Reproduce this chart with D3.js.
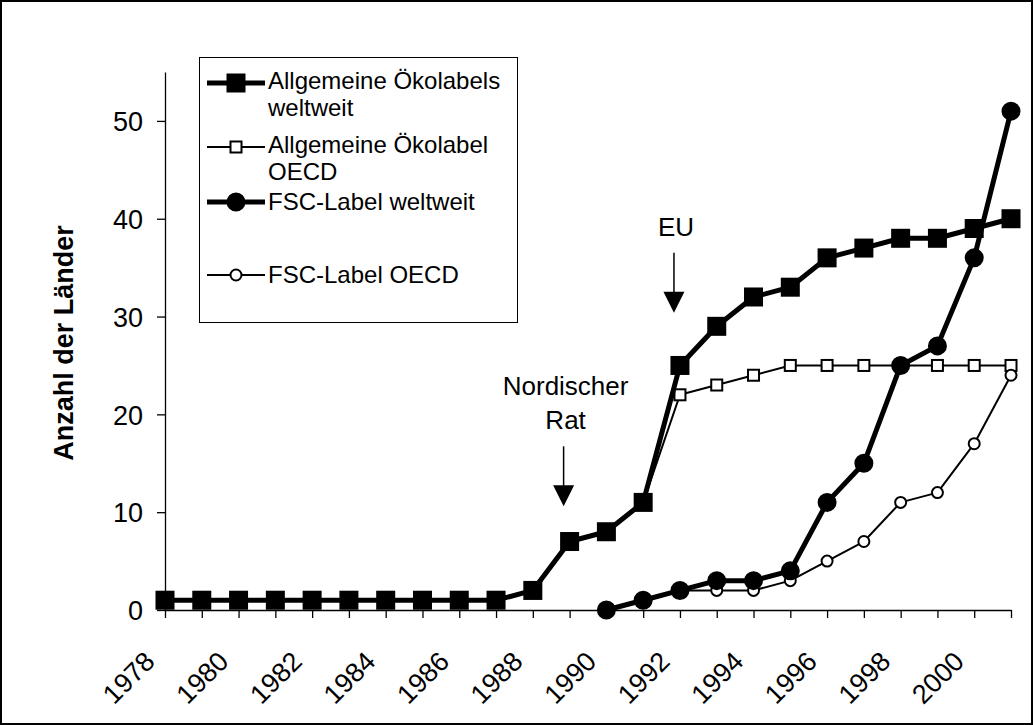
<!DOCTYPE html>
<html>
<head>
<meta charset="utf-8">
<script src="https://cdn.jsdelivr.net/npm/d3@7"></script>
<style>
  body { margin: 0; background: #fff; }
  text { font-family: 'Liberation Sans', Arial, sans-serif; fill: #000; }
</style>
</head>
<body>
<div id="chart"></div>
<script>
const years = [1978, 1979, 1980, 1981, 1982, 1983, 1984, 1985, 1986, 1987, 1988, 1989,
  1990, 1991, 1992, 1993, 1994, 1995, 1996, 1997, 1998, 1999, 2000, 2001];

const allgWelt = [1, 1, 1, 1, 1, 1, 1, 1, 1, 1, 2, 7, 8, 11, 25, 29, 32, 33, 36, 37, 38, 38, 39, 40];
const allgOECD = [1, 1, 1, 1, 1, 1, 1, 1, 1, 1, 2, 7, 8, 11, 22, 23, 24, 25, 25, 25, 25, 25, 25, 25];
const fscWelt = [null, null, null, null, null, null, null, null, null, null, null, null,
  0, 1, 2, 3, 3, 4, 11, 15, 25, 27, 36, 51];
const fscOECD = [null, null, null, null, null, null, null, null, null, null, null, null,
  0, 1, 2, 2, 2, 3, 5, 7, 11, 12, 17, 24];

const yTicks = [0, 10, 20, 30, 40, 50];

const annotLabels = [['Nordischer', 'Rat'], ['EU']];
const annotYears = [1989, 1992];
const annotTips = [10.6, 30.4];

const app = () => {
  const svgWidth = 1033;
  const svgHeight = 725;

  const svg = d3.select('#chart').append('svg')
    .attr('width', svgWidth)
    .attr('height', svgHeight);

  // outer frame
  svg.append('rect')
    .attr('x', 1).attr('y', 1)
    .attr('width', svgWidth - 2).attr('height', svgHeight - 2)
    .attr('fill', 'none').attr('stroke', '#000').attr('stroke-width', 2);

  const x = d3.scalePoint().domain(years).range([165, 1011]);
  const y = d3.scaleLinear().domain([0, 55]).range([610, 72]);

  // y axis
  const yAxis = svg.append('g')
    .attr('transform', 'translate(165,0)')
    .call(d3.axisLeft(y).tickValues(yTicks).tickSize(8).tickSizeOuter(0).tickPadding(14));
  yAxis.selectAll('text').style('font-size', '27px').attr('dy', '0.36em');

  // x axis
  const xAxis = svg.append('g')
    .attr('transform', 'translate(0,610)')
    .call(d3.axisBottom(x).tickSize(8).tickSizeOuter(0)
      .tickFormat((d) => (d % 2 === 0 && d <= 2000 ? d : '')));
  xAxis.selectAll('text')
    .style('font-size', '27px')
    .attr('text-anchor', 'end')
    .attr('x', 0).attr('y', 0).attr('dy', 0)
    .attr('transform', 'translate(-9,53) rotate(-45)');

  svg.selectAll('.domain, .tick line').attr('stroke', '#000').attr('stroke-width', 1.3);

  svg.append('text')
    .attr('transform', `translate(73,${(72 + 610) / 2 + 2}) rotate(-90)`)
    .attr('text-anchor', 'middle')
    .style('font-size', '27px')
    .style('font-weight', 'bold')
    .text('Anzahl der Länder');

  const series = [
    { name: 'allgOECD', values: allgOECD, width: 2, marker: 'square', size: 11, fill: '#fff' },
    { name: 'fscOECD', values: fscOECD, width: 2, marker: 'circle', size: 11, fill: '#fff' },
    { name: 'allgWelt', values: allgWelt, width: 5, marker: 'square', size: 17, fill: '#000' },
    { name: 'fscWelt', values: fscWelt, width: 5, marker: 'circle', size: 17, fill: '#000' },
  ];

  const line = d3.line()
    .defined((d) => d.v != null)
    .x((d) => x(d.year))
    .y((d) => y(d.v));

  function drawMarker(g, s, cx, cy) {
    if (s.marker === 'square') {
      g.append('rect')
        .attr('x', cx - s.size / 2).attr('y', cy - s.size / 2)
        .attr('width', s.size).attr('height', s.size)
        .attr('fill', s.fill).attr('stroke', '#000').attr('stroke-width', 2);
    } else {
      g.append('circle')
        .attr('cx', cx).attr('cy', cy).attr('r', s.size / 2)
        .attr('fill', s.fill).attr('stroke', '#000').attr('stroke-width', 2);
    }
  }

  series.forEach((s) => {
    const pts = years.map((yr, i) => ({ year: yr, v: s.values[i] }));
    const g = svg.append('g');
    g.append('path')
      .datum(pts)
      .attr('d', line)
      .attr('fill', 'none')
      .attr('stroke', '#000')
      .attr('stroke-width', s.width)
      .attr('stroke-linejoin', 'round');
    pts.filter((p) => p.v != null).forEach((p) => drawMarker(g, s, x(p.year), y(p.v)));
  });

  // annotations with arrows
  annotLabels.forEach((lines, i) => {
    const ax = x(annotYears[i]) - 6;
    const tip = y(annotTips[i]);
    const g = svg.append('g');
    g.append('line')
      .attr('x1', ax).attr('x2', ax)
      .attr('y1', tip - 60).attr('y2', tip - 18)
      .attr('stroke', '#000').attr('stroke-width', 1.5);
    g.append('path')
      .attr('d', `M${ax - 10.5},${tip - 21} L${ax + 10.5},${tip - 21} L${ax},${tip} Z`)
      .attr('fill', '#000');
    lines.forEach((t, j) => {
      g.append('text')
        .attr('x', ax + 2)
        .attr('y', tip - 77 - (lines.length - 1 - j) * 34)
        .attr('text-anchor', 'middle')
        .style('font-size', '26px')
        .text(t);
    });
  });

  // legend
  const legend = svg.append('g');
  legend.append('rect')
    .attr('x', 199.5).attr('y', 57.5)
    .attr('width', 318).attr('height', 265)
    .attr('fill', '#fff').attr('stroke', '#000').attr('stroke-width', 1);

  const legendItems = [
    { s: series[2], cy: 83, lines: ['Allgemeine Ökolabels', 'weltweit'] },
    { s: series[0], cy: 147, lines: ['Allgemeine Ökolabel', 'OECD'] },
    { s: series[3], cy: 202, lines: ['FSC-Label weltweit'] },
    { s: series[1], cy: 275, lines: ['FSC-Label OECD'] },
  ];

  legendItems.forEach((it) => {
    legend.append('line')
      .attr('x1', 207).attr('x2', 265)
      .attr('y1', it.cy).attr('y2', it.cy)
      .attr('stroke', '#000').attr('stroke-width', it.s.width);
    drawMarker(legend, it.s, 236, it.cy);
    it.lines.forEach((t, j) => {
      legend.append('text')
        .attr('x', 268)
        .attr('y', it.cy + (it.lines.length > 1 ? 6 : 8) + j * 27)
        .style('font-size', '24px')
        .text(t);
    });
  });
};

app();
</script>
</body>
</html>
